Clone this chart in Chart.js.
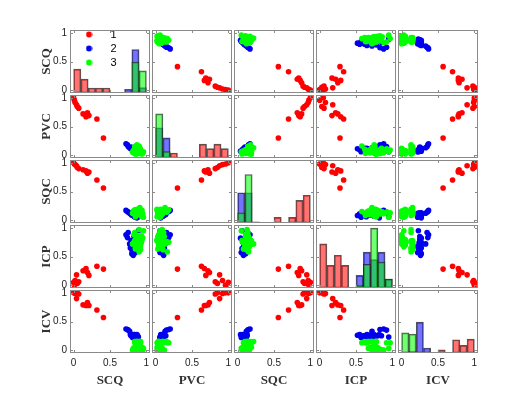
<!DOCTYPE html>
<html>
<head>
<meta charset="utf-8">
<script src="https://cdn.jsdelivr.net/npm/chart.js@4.4.0/dist/chart.umd.min.js"></script>
<style>
  html, body { margin: 0; background: #fff; }
  #wrap { position: relative; width: 530px; height: 399px; overflow: hidden; }
  #wrap div { position: absolute; }
  #wrap canvas { display: block; }
</style>
</head>
<body>
<div id="wrap"></div>
<script>
// variables and groups
const vars = ['SCQ', 'PVC', 'SQC', 'ICP', 'ICV'];
const groups = ['1', '2', '3'];
const tickVals = [0, 0.5, 1];
const binCenters = [0.05, 0.15, 0.25, 0.35, 0.45, 0.55, 0.65, 0.75, 0.85, 0.95];

// group 1 (red)
const scqR = [0.00, 0.01, 0.02, 0.04, 0.05, 0.07, 0.13, 0.17, 0.19, 0.21, 0.32, 0.41];
const pvcR = [1.00, 0.96, 0.92, 0.88, 0.85, 0.82, 0.72, 0.67, 0.74, 0.69, 0.63, 0.30];
const sqcR = [1.00, 0.98, 0.97, 0.95, 0.92, 0.90, 0.88, 0.86, 0.82, 0.84, 0.70, 0.56];
const icpR = [0.05, 0.00, 0.08, 0.18, 0.03, 0.06, 0.25, 0.29, 0.22, 0.17, 0.33, 0.28];
const icvR = [1.00, 1.00, 0.99, 0.90, 1.00, 0.98, 0.79, 0.78, 0.83, 0.78, 0.70, 0.57];

// group 2 (blue)
const scqB = [0.72, 0.74, 0.75, 0.77, 0.78, 0.79, 0.80, 0.80, 0.81, 0.82, 0.82, 0.83, 0.83, 0.84, 0.84, 0.85, 0.85, 0.86, 0.86, 0.87, 0.88, 0.89];
const pvcB = [0.20, 0.18, 0.15, 0.13, 0.12, 0.14, 0.10, 0.12, 0.09, 0.11, 0.08, 0.10, 0.13, 0.07, 0.09, 0.11, 0.06, 0.08, 0.10, 0.07, 0.09, 0.06];
const sqcB = [0.17, 0.15, 0.14, 0.12, 0.13, 0.10, 0.11, 0.09, 0.12, 0.08, 0.10, 0.07, 0.13, 0.06, 0.09, 0.11, 0.05, 0.08, 0.12, 0.04, 0.10, 0.06];
const icpB = [0.88, 0.83, 0.92, 0.72, 0.65, 0.78, 0.55, 0.62, 0.68, 0.52, 0.58, 0.75, 0.85, 0.64, 0.71, 0.80, 0.57, 0.66, 0.74, 0.82, 0.61, 0.95];
const icvB = [0.37, 0.36, 0.35, 0.33, 0.27, 0.25, 0.27, 0.25, 0.22, 0.26, 0.24, 0.27, 0.25, 0.23, 0.27, 0.25, 0.22, 0.26, 0.24, 0.27, 0.25, 0.23];

// group 3 (green)
const scqG = [0.81, 0.83, 0.84, 0.85, 0.86, 0.86, 0.87, 0.87, 0.88, 0.88, 0.89, 0.89, 0.85, 0.84, 0.82, 0.83, 0.86, 0.87, 0.88, 0.89,
              0.85, 0.86, 0.84, 0.87, 0.90, 0.91, 0.91, 0.92, 0.92, 0.93, 0.93, 0.94, 0.90, 0.91, 0.92, 0.95, 0.93, 0.90, 0.91, 0.96];
const pvcG = [0.05, 0.08, 0.03, 0.06, 0.10, 0.04, 0.07, 0.02, 0.09, 0.05, 0.12, 0.06, 0.03, 0.15, 0.08, 0.04, 0.07, 0.18, 0.05, 0.09,
              0.02, 0.06, 0.11, 0.04, 0.08, 0.03, 0.07, 0.05, 0.10, 0.04, 0.06, 0.02, 0.09, 0.13, 0.05, 0.03, 0.07, 0.16, 0.04, 0.06];
const sqcG = [0.12, 0.15, 0.18, 0.11, 0.14, 0.16, 0.13, 0.19, 0.10, 0.17, 0.15, 0.12, 0.08, 0.14, 0.16, 0.11, 0.13, 0.18, 0.15, 0.12,
              0.06, 0.17, 0.14, 0.13, 0.16, 0.11, 0.19, 0.15, 0.12, 0.09, 0.14, 0.17, 0.13, 0.22, 0.16, 0.11, 0.07, 0.15, 0.18, 0.05];
const icpG = [0.72, 0.75, 0.78, 0.65, 0.73, 0.82, 0.71, 0.77, 0.68, 0.74, 0.85, 0.79, 0.63, 0.76, 0.72, 0.88, 0.70, 0.75, 0.66, 0.81,
              0.78, 0.73, 0.92, 0.69, 0.76, 0.84, 0.71, 0.77, 0.62, 0.74, 0.86, 0.79, 0.97, 0.72, 0.67, 0.83, 0.75, 0.58, 0.78, 0.95];
const icvG = [0.00, 0.03, 0.05, 0.13, 0.15, 0.00, 0.05, 0.13, 0.15, 0.03, 0.00, 0.05, 0.13, 0.15, 0.03, 0.00, 0.05, 0.13, 0.15, 0.03,
              0.00, 0.05, 0.13, 0.15, 0.03, 0.00, 0.05, 0.13, 0.15, 0.03, 0.00, 0.05, 0.13, 0.15, 0.03, 0.00, 0.05, 0.13, 0.15, 0.03];

// diagonal histograms, bar height as fraction of panel height
const hScqR = [0.38, 0.22, 0.08, 0.08, 0.08, 0, 0, 0, 0, 0];
const hScqB = [0, 0, 0, 0, 0, 0, 0, 0.06, 0.69, 0.085];
const hScqG = [0, 0, 0, 0, 0, 0, 0, 0, 0.49, 0.35];
const hPvcR = [0, 0, 0.08, 0, 0, 0, 0.22, 0.15, 0.22, 0.15];
const hPvcB = [0.48, 0.32, 0, 0, 0, 0, 0, 0, 0, 0];
const hPvcG = [0.70, 0.10, 0, 0, 0, 0, 0, 0, 0, 0];
const hSqcR = [0, 0, 0, 0, 0, 0.09, 0, 0.09, 0.36, 0.44];
const hSqcB = [0.48, 0.48, 0, 0, 0, 0, 0, 0, 0, 0];
const hSqcG = [0.16, 0.77, 0.02, 0, 0, 0, 0, 0, 0, 0];
const hIcpR = [0.70, 0.36, 0.52, 0.36, 0, 0, 0, 0, 0, 0];
const hIcpB = [0, 0, 0, 0, 0, 0.20, 0.57, 0.45, 0.57, 0.14];
const hIcpG = [0, 0, 0, 0, 0, 0.04, 0.375, 0.95, 0.41, 0.14];
const hIcvR = [0, 0, 0, 0, 0, 0.05, 0, 0.21, 0.12, 0.22];
const hIcvB = [0.02, 0.03, 0.49, 0.08, 0, 0, 0, 0, 0, 0];
const hIcvG = [0.32, 0.30, 0, 0, 0, 0, 0, 0, 0, 0];

const cols = {
  SCQ: [scqR, scqB, scqG], PVC: [pvcR, pvcB, pvcG], SQC: [sqcR, sqcB, sqcG],
  ICP: [icpR, icpB, icpG], ICV: [icvR, icvB, icvG]
};
const hists = {
  SCQ: [hScqR, hScqB, hScqG], PVC: [hPvcR, hPvcB, hPvcG], SQC: [hSqcR, hSqcB, hSqcG],
  ICP: [hIcpR, hIcpB, hIcpG], ICV: [hIcvR, hIcvB, hIcvG]
};

const pointColors = ['#ff0000', '#0000ee', '#00ff00'];
const barColors = ['rgba(255,0,0,0.55)', 'rgba(0,0,255,0.55)', 'rgba(0,255,0,0.55)'];

// layout of the grid (M / MT = spare canvas margin so edge labels are not cut)
const X0 = 70, Y0 = 30, W = 80, H = 63, GAP = 2, AX = 40, M = 8, MT = 4;

// little solid dots used as legend markers
const dots = pointColors.map(c => {
  const d = document.createElement('canvas');
  d.width = 7; d.height = 7;
  const g = d.getContext('2d');
  g.fillStyle = c;
  g.beginPath(); g.arc(3.5, 3.5, 3, 0, Math.PI * 2); g.fill();
  return d;
});

// box and inward ticks like matlab axes
const frame = {
  id: 'frame',
  afterDatasetsDraw(chart) {
    const { ctx, chartArea: a, scales } = chart;
    const x = scales.x, y = scales.y;
    ctx.save();
    ctx.strokeStyle = '#8a8a8a';
    ctx.lineWidth = 1;
    ctx.strokeRect(a.left + 0.5, a.top + 0.5, a.width - 1, a.height - 1);
    ctx.beginPath();
    tickVals.forEach(v => {
      const px = Math.round(x.getPixelForValue(v)) + 0.5;
      const py = Math.round(y.getPixelForValue(v)) + 0.5;
      ctx.moveTo(px, a.top); ctx.lineTo(px, a.top + 3);
      ctx.moveTo(px, a.bottom); ctx.lineTo(px, a.bottom - 3);
      ctx.moveTo(a.left, py); ctx.lineTo(a.left + 3, py);
      ctx.moveTo(a.right, py); ctx.lineTo(a.right - 3, py);
    });
    ctx.stroke();
    ctx.restore();
  }
};

function axis(show, title, vertical) {
  return {
    type: 'linear', min: -0.05, max: 1.05, offset: false, display: show,
    position: vertical ? 'left' : 'bottom',
    afterBuildTicks: s => { s.ticks = tickVals.map(v => ({ value: v })); },
    // fixed room for labels, only where the axis is shown; no extra edge padding
    afterFit: s => {
      if (!show) return;
      if (vertical) { s.width = AX; s.paddingTop = 0; s.paddingBottom = 0; }
      else { s.height = AX; s.paddingLeft = 0; s.paddingRight = 0; }
    },
    grid: { display: false, drawTicks: false },
    border: { display: false },
    ticks: {
      padding: vertical ? 3 : 4, color: '#222', autoSkip: false, maxRotation: 0,
      font: { family: 'Liberation Sans', size: 10 },
      callback: v => String(v)
    },
    title: {
      display: show, text: title, color: '#333',
      font: { family: 'Liberation Serif', size: 13, weight: 'bold' },
      padding: vertical ? { top: 9, bottom: 0 } : { top: 0, bottom: 5 }
    }
  };
}

const wrap = document.getElementById('wrap');

vars.forEach((rowVar, i) => {
  vars.forEach((colVar, j) => {
    const isLeft = j === 0, isBottom = i === vars.length - 1;
    const w = W + (isLeft ? AX : 0) + 2 * M, h = H + (isBottom ? AX : 0) + MT + M;
    const box = document.createElement('div');
    box.style.left = (X0 + j * (W + GAP) - (isLeft ? AX : 0) - M) + 'px';
    box.style.top = (Y0 + i * (H + GAP) - MT) + 'px';
    box.style.width = w + 'px';
    box.style.height = h + 'px';
    const cv = document.createElement('canvas');
    box.appendChild(cv);
    wrap.appendChild(box);

    const scales = { x: axis(isBottom, colVar, false), y: axis(isLeft, rowVar, true) };
    let type, datasets;

    if (i === j) {
      // histogram on the diagonal
      type = 'bar';
      scales.h = { type: 'linear', min: 0, max: 1, display: false };
      datasets = hists[rowVar].map((hv, g) => ({
        label: groups[g],
        data: binCenters.map((c, k) => ({ x: c, y: hv[k] })),
        yAxisID: 'h',
        backgroundColor: barColors[g],
        borderColor: 'rgba(30,30,30,0.75)',
        borderWidth: 1,
        borderSkipped: false,
        barPercentage: 1,
        categoryPercentage: 1,
        grouped: false,
        order: 3 - g
      }));
    } else {
      type = 'scatter';
      datasets = groups.map((gname, g) => ({
        label: gname,
        data: cols[colVar][g].map((xv, k) => ({ x: xv, y: cols[rowVar][g][k] })),
        backgroundColor: pointColors[g],
        borderWidth: 0,
        pointRadius: 2.8,
        pointHoverRadius: 2.8,
        order: 3 - g
      }));
    }

    new Chart(cv, {
      type: type,
      data: { datasets: datasets },
      options: {
        responsive: true,
        maintainAspectRatio: false,
        animation: false,
        events: [],
        layout: { padding: { top: MT, left: M, right: M, bottom: M }, autoPadding: false },
        scales: scales,
        plugins: {
          tooltip: { enabled: false },
          legend: {
            display: i === 0 && j === 0,
            position: 'chartArea',
            align: 'start',
            labels: {
              usePointStyle: true,
              pointStyleWidth: 32,
              padding: 3,
              color: '#000',
              font: { family: 'Liberation Sans', size: 11 },
              generateLabels: () => groups.map((gname, g) => ({
                text: gname, pointStyle: dots[g], fillStyle: pointColors[g],
                strokeStyle: pointColors[g], lineWidth: 0, hidden: false, datasetIndex: g
              }))
            }
          }
        }
      },
      plugins: [frame]
    });
  });
});
</script>
</body>
</html>
